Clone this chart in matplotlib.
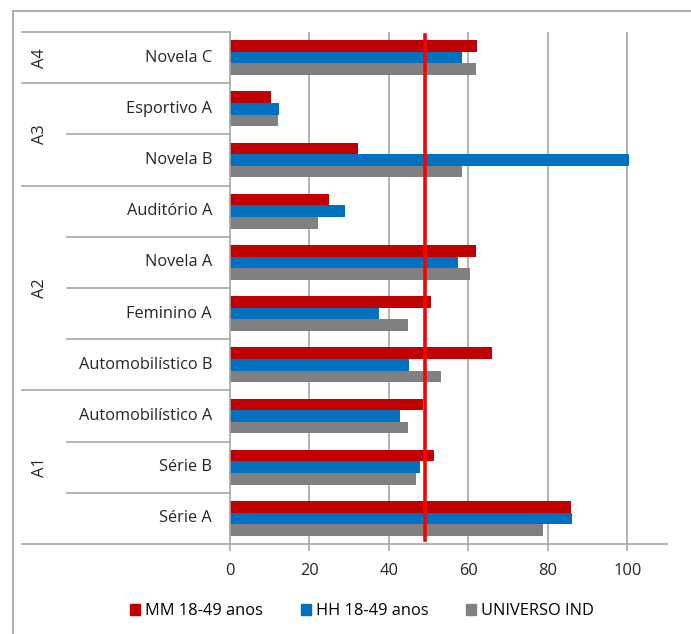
import numpy as np
import matplotlib
matplotlib.use("Agg")
import matplotlib.pyplot as plt
from matplotlib.patches import Patch
from matplotlib.lines import Line2D
import matplotlib.transforms as mtrans

# categories from bottom to top
categories = ["Série A", "Série B", "Automobilístico A", "Automobilístico B",
              "Feminino A", "Novela A", "Auditório A", "Novela B",
              "Esportivo A", "Novela C"]
groups = ["A1", "A2", "A3", "A4"]
group_sizes = [3, 4, 2, 1]

mm_18_49 = [85.8, 51.4, 48.5, 66.0, 50.6, 61.9, 24.8, 32.2, 10.2, 62.2]
hh_18_49 = [86.2, 47.9, 42.7, 45.0, 37.5, 57.3, 28.9, 100.5, 12.4, 58.5]
universo = [78.8, 46.9, 44.7, 53.2, 44.7, 60.4, 22.2, 58.5, 12.0, 61.9]
series_names = ["MM 18-49 anos", "HH 18-49 anos", "UNIVERSO IND"]
ref_line = 49
xticks = [0, 20, 40, 60, 80, 100]

colors = ["#C00000", "#0070C0", "#808080"]
grid_c = "#A6A6A6"
txt_c = "#262626"
fs = 11.8

plt.rcParams["font.family"] = ["Open Sans", "DejaVu Sans"]

W, H = 691, 634
fig = plt.figure(figsize=(W / 100, H / 100), dpi=100)
ax = fig.add_axes([230 / W, (H - 544) / H, (667 - 230) / W, (544 - 32) / H])

y = np.arange(len(categories))
h = 0.227
for i, vals in enumerate([mm_18_49, hh_18_49, universo]):
    ax.barh(y + (1 - i) * h, vals, height=h, color=colors[i], zorder=2,
            label=series_names[i])

ax.axvline(ref_line, ymin=0.008, ymax=0.995, color="#FF0000", lw=2.6, zorder=3)

ax.set_xlim(0, 110)
ax.set_ylim(-0.5, len(categories) - 0.5)
ax.set_xticks(xticks)
ax.set_xticklabels([str(t) for t in xticks], fontsize=fs, color=txt_c)
for t in xticks[1:]:
    ax.axvline(t, color=grid_c, lw=1.2, zorder=1)
ax.set_yticks([])
for s in ["top", "right"]:
    ax.spines[s].set_visible(False)
for s in ["left", "bottom"]:
    ax.spines[s].set_color(grid_c)
    ax.spines[s].set_linewidth(1.2)
ax.tick_params(axis="x", length=5, width=1.2, color=grid_c, pad=9)

# category labels and separators on the left
trans = mtrans.blended_transform_factory(ax.transAxes, ax.transData)
x_lab = -(230 - 212) / (667 - 230)
x_outer = -(230 - 22) / (667 - 230)
x_inner = -(230 - 67) / (667 - 230)
for i, name in enumerate(categories):
    ax.text(x_lab, i, name, transform=trans, ha="right", va="center",
            fontsize=fs, color=txt_c)

bounds = np.cumsum([0] + group_sizes) - 0.5
for b in bounds:
    ax.add_line(Line2D([x_outer, 0], [b, b], transform=trans, color=grid_c,
                       lw=1.2, clip_on=False))
for i in range(len(categories) - 1):
    b = i + 0.5
    if b not in bounds:
        ax.add_line(Line2D([x_inner, 0], [b, b], transform=trans, color=grid_c,
                           lw=1.2, clip_on=False))
x_grp = -(230 - 40) / (667 - 230)
for g, lo, hi in zip(groups, bounds[:-1], bounds[1:]):
    ax.text(x_grp, (lo + hi) / 2, g, transform=trans, rotation=90,
            ha="center", va="center", fontsize=fs, color=txt_c)

# outer frame (top and left edges visible)
fig.add_artist(Line2D([13 / W, 1], [1 - 11 / H, 1 - 11 / H], color="#A0A0A0", lw=1.2))
fig.add_artist(Line2D([13 / W, 13 / W], [0, 1 - 11 / H], color="#A0A0A0", lw=1.2))

handles = [Patch(color=c) for c in colors]
fig.legend(handles, series_names, loc="center", bbox_to_anchor=(362 / W, 1 - 611 / H),
           ncol=3, frameon=False, fontsize=fs, handlelength=0.6, handleheight=0.7,
           handletextpad=0.3, columnspacing=2.3)

fig.savefig("out.png", dpi=100)
